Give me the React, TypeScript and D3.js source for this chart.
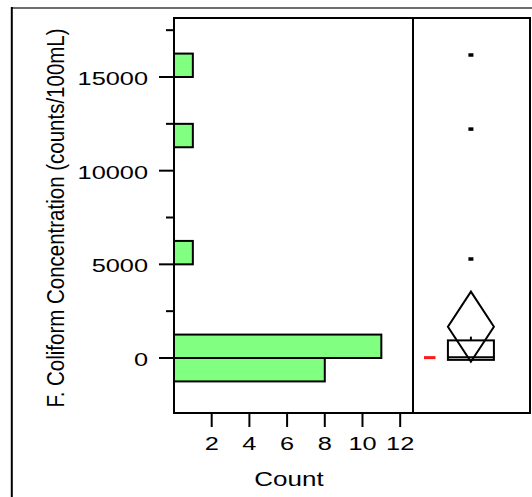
import React from 'react';
import * as d3 from 'd3';

// histogram bins (lower edge), width 1250
const binStarts = [-1250, 0, 5000, 11250, 15000];
const binCounts = [8, 11, 1, 1, 1];
const binWidth = 1250;

const yMajor = [0, 5000, 10000, 15000];
const yMinor = [2500, 7500, 12500, 17500];
const xTicks = [2, 4, 6, 8, 10, 12];

// outlier box plot summary
const outliers = [16175, 12220, 5285];
const quart = [-100, 40, 940]; // q1, median, q3
const whiskerHi = 1140;
const meanCI = [-199, 1671, 3541]; // lower, mean, upper
const shortHalf = [-60, 100];

const font = '"Liberation Sans", Arial, sans-serif';

const App = () => {
  const y = d3.scaleLinear().domain([-2936, 18150]).range([413, 18]);
  const x = d3.scaleLinear().domain([0, 12.68]).range([174, 413]);
  const bx = d3.scaleLinear().domain([0, 1]).range([413, 530]);

  const cx = bx(0.495);
  const half = 23;

  const diamond = d3.line()([
    [cx, y(meanCI[2])],
    [cx + half, y(meanCI[1])],
    [cx, y(meanCI[0])],
    [cx - half, y(meanCI[1])],
  ]) + 'Z';

  return (
    <svg width={532} height={497} style={{ position: 'absolute', left: 0, top: 0 }} fontFamily={font}>
      <rect width={532} height={497} fill="white" />
      {/* outer frame */}
      <line x1={11} x2={532} y1={8} y2={8} stroke="#6e6e6e" strokeWidth={2} />
      <line x1={11.8} x2={11.8} y1={7} y2={497} stroke="black" strokeWidth={2} />

      {/* histogram bars */}
      {binStarts.map((s, i) => (
        <rect
          key={i}
          x={x(0)}
          y={y(s + binWidth)}
          width={x(binCounts[i]) - x(0)}
          height={y(s) - y(s + binWidth)}
          fill="#80ff80"
          stroke="black"
          strokeWidth={2}
        />
      ))}

      {/* panels */}
      <rect x={x(0)} y={18} width={413 - x(0)} height={395} fill="none" stroke="black" strokeWidth={2} />
      <rect x={413} y={18} width={bx(1) - 413} height={395} fill="none" stroke="black" strokeWidth={2} />

      {/* y axis */}
      {yMajor.map(v => (
        <g key={v}>
          <line x1={159} x2={174} y1={y(v)} y2={y(v)} stroke="black" strokeWidth={2} />
          <g transform={`translate(148,${y(v) + 8}) scale(1.37,1)`}>
            <text textAnchor="end" fontSize={18.5}>{v}</text>
          </g>
        </g>
      ))}
      {yMinor.map(v => (
        <line key={v} x1={166} x2={174} y1={y(v)} y2={y(v)} stroke="black" strokeWidth={2} />
      ))}
      <g transform="translate(64,218) rotate(-90) scale(1,1.15)">
        <text textAnchor="middle" fontSize={20.5}>
          F. Coliform Concentration (counts/100mL)
        </text>
      </g>

      {/* x axis */}
      {xTicks.map(t => (
        <g key={t}>
          <line x1={x(t)} x2={x(t)} y1={413} y2={427} stroke="black" strokeWidth={2} />
          <g transform={`translate(${x(t)},449.5) scale(1.37,1)`}>
            <text textAnchor="middle" fontSize={18.5}>{t}</text>
          </g>
        </g>
      ))}
      <g transform="translate(289,486) scale(1.3,1)">
        <text textAnchor="middle" fontSize={20}>Count</text>
      </g>

      {/* outlier box plot */}
      {outliers.map((v, i) => (
        <rect key={i} x={cx - 2.5} y={y(v) - 1.75} width={5} height={3.5} fill="black" />
      ))}
      <line x1={cx} x2={cx} y1={y(quart[2])} y2={y(whiskerHi)} stroke="black" strokeWidth={2} />
      <rect
        x={cx - half}
        y={y(quart[2])}
        width={half * 2}
        height={y(quart[0]) - y(quart[2])}
        fill="none"
        stroke="black"
        strokeWidth={2}
      />
      <line x1={cx - half} x2={cx + half} y1={y(quart[1])} y2={y(quart[1])} stroke="black" strokeWidth={2} />
      <path d={diamond} fill="none" stroke="black" strokeWidth={2} />
      <rect
        x={424}
        y={y(shortHalf[1])}
        width={11.5}
        height={y(shortHalf[0]) - y(shortHalf[1])}
        fill="#ff1a1a"
      />
    </svg>
  );
};

export default App;
